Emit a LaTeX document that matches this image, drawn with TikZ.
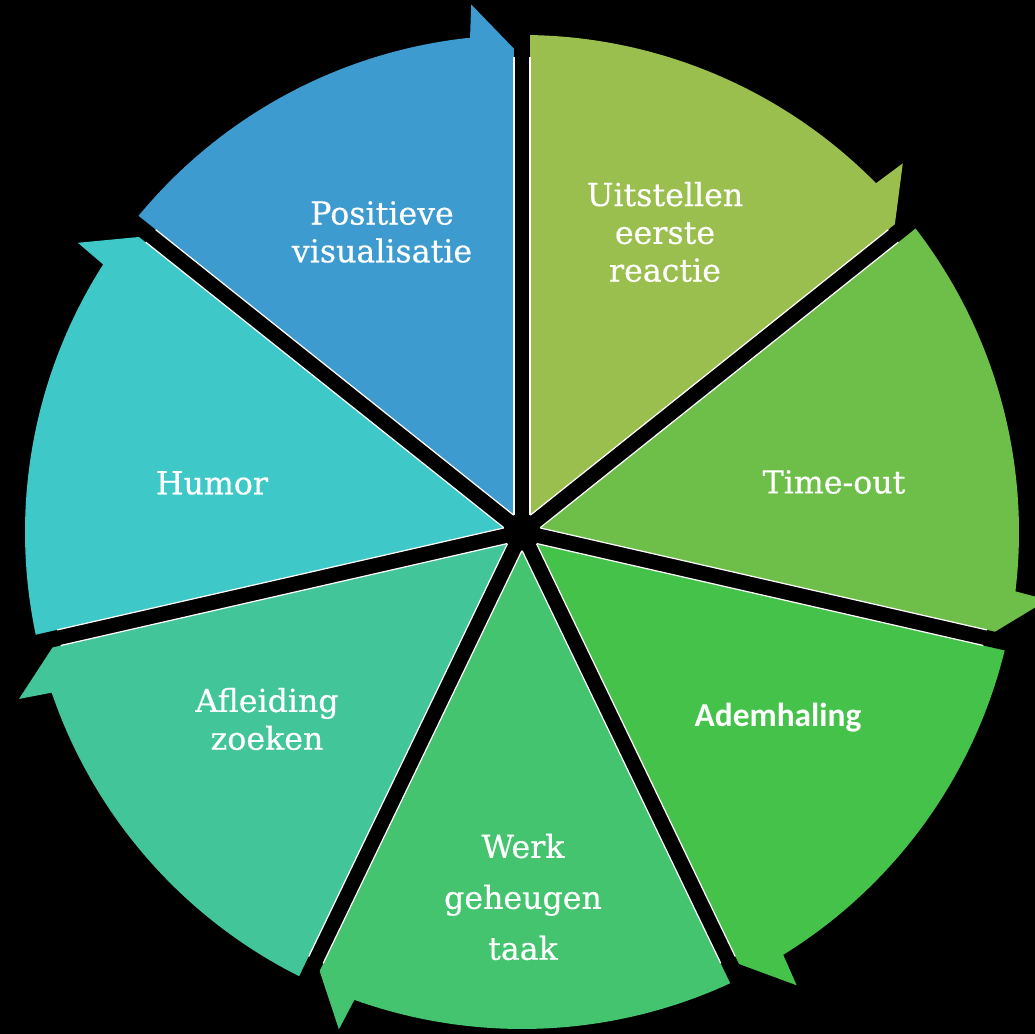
\documentclass[tikz,border=0pt]{standalone}
\usepackage{fontspec}
\setmainfont{DejaVu Serif}[BoldFont={DejaVu Serif}, BoldFeatures={FakeBold=0.5}]
\newfontfamily\calibrifont{Carlito}
\definecolor{blauw}{RGB}{61,155,207}
\definecolor{geelgroen}{RGB}{155,191,78}
\definecolor{lichtgroen}{RGB}{110,191,74}
\definecolor{groen}{RGB}{69,194,73}
\definecolor{zeegroen}{RGB}{68,196,110}
\definecolor{mintgroen}{RGB}{67,197,154}
\definecolor{turkoois}{RGB}{63,200,200}

\begin{document}
\begin{tikzpicture}[x=0.02cm, y=0.02cm,
  spleet/.style={line width=0.32cm, black},
  rand/.style={white, line width=0.7pt},
  tekst/.style={white, align=center, font=\bfseries\fontsize{18}{21.5}\selectfont}]
% background
\useasboundingbox (-522,-502) rectangle (513,532);
\fill[black] (-522,-502) rectangle (513,532);
% Sectors, arrowhead at the clockwise end
\fill[geelgroen] (0,0) -- (90:497) arc[start angle=90, end angle=44.57, radius=497] -- (44.07:530) -- (38.57:475) -- cycle;
\fill[lichtgroen] (0,0) -- (38.57:497) arc[start angle=38.57, end angle=-6.86, radius=497] -- (-7.36:530) -- (-12.86:475) -- cycle;
\fill[groen] (0,0) -- (-12.86:497) arc[start angle=-12.86, end angle=-58.29, radius=497] -- (-58.79:530) -- (-64.29:475) -- cycle;
\fill[zeegroen] (0,0) -- (-64.29:497) arc[start angle=-64.29, end angle=-109.71, radius=497] -- (-110.21:530) -- (-115.71:475) -- cycle;
\fill[mintgroen] (0,0) -- (-115.71:497) arc[start angle=-115.71, end angle=-161.14, radius=497] -- (-161.64:530) -- (-167.14:475) -- cycle;
\fill[turkoois] (0,0) -- (-167.14:497) arc[start angle=-167.14, end angle=-212.57, radius=497] -- (-213.07:530) -- (-218.57:475) -- cycle;
\fill[blauw] (0,0) -- (141.43:497) arc[start angle=141.43, end angle=96, radius=497] -- (95.5:530) -- (90:475) -- cycle;
% Gaps between the sectors
\draw[spleet] (0,0) -- (90:505);
\draw[spleet] (0,0) -- (38.57:505);
\draw[spleet] (0,0) -- (-12.86:505);
\draw[spleet] (0,0) -- (-64.29:505);
\draw[spleet] (0,0) -- (-115.71:505);
\draw[spleet] (0,0) -- (-167.14:505);
\draw[spleet] (0,0) -- (141.43:505);
% thin white edges along the gaps
\draw[rand, rotate=90] (17,8) -- (475,8) (17,-8) -- (475,-8);
\draw[rand, rotate=38.57] (17,8) -- (475,8) (17,-8) -- (475,-8);
\draw[rand, rotate=-12.86] (17,8) -- (475,8) (17,-8) -- (475,-8);
\draw[rand, rotate=-64.29] (17,8) -- (475,8) (17,-8) -- (475,-8);
\draw[rand, rotate=-115.71] (17,8) -- (475,8) (17,-8) -- (475,-8);
\draw[rand, rotate=-167.14] (17,8) -- (475,8) (17,-8) -- (475,-8);
\draw[rand, rotate=141.43] (17,8) -- (475,8) (17,-8) -- (475,-8);
% Labels
\node[tekst] (uitstellen) at (143,300) {Uitstellen\\eerste\\reactie};
\node[tekst] (timeout) at (312,50) {Time-out};
\node[tekst, font=\calibrifont\bfseries\fontsize{19}{23}\selectfont] (ademhaling) at (256,-186) {Ademhaling};
\node[tekst, font=\bfseries\fontsize{18}{29}\selectfont] (werk) at (1,-365) {Werk\\geheugen\\taak};
\node[tekst] (afleiding) at (-255,-187) {Afleiding\\zoeken};
\node[tekst] (humor) at (-310,49) {Humor};
\node[tekst] (positief) at (-140,300) {Positieve\\visualisatie};
\end{tikzpicture}
\end{document}
